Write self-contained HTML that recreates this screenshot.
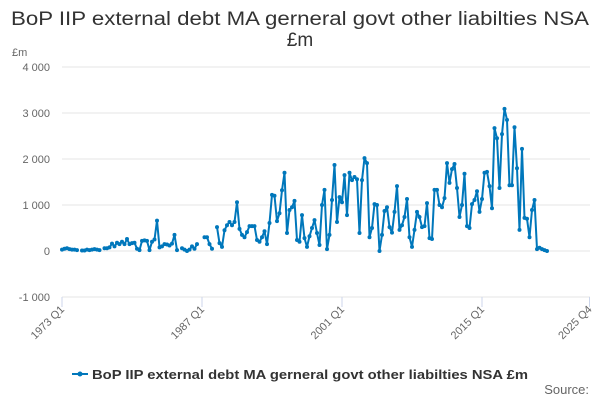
<!DOCTYPE html>
<html><head><meta charset="utf-8"><style>
body{margin:0;background:#fff;font-family:"Liberation Sans",sans-serif;}
svg text{font-family:"Liberation Sans",sans-serif;}
</style></head><body>
<svg id="chart" width="600" height="400">
<text x="300" y="25" text-anchor="middle" font-size="19" fill="#333" textLength="578" lengthAdjust="spacingAndGlyphs">BoP IIP external debt MA gerneral govt other liabilties NSA</text>
<text x="300" y="46" text-anchor="middle" font-size="19" fill="#333">£m</text>
<text x="12" y="56" font-size="11" fill="#666">£m</text>
<g id="grid"></g><g id="xaxis"></g><g id="series"></g>
<g>
<line x1="72" y1="374" x2="88" y2="374" stroke="#0077bb" stroke-width="2"/>
<circle cx="80" cy="374" r="2.5" fill="#0077bb"/>
<text x="92" y="379" font-size="13" font-weight="bold" fill="#333" textLength="436" lengthAdjust="spacingAndGlyphs">BoP IIP external debt MA gerneral govt other liabilties NSA £m</text>
</g>
<text x="589" y="394" text-anchor="end" font-size="13" fill="#666">Source:</text>
</svg>
<script>
const yTicks=[-1000,0,1000,2000,3000,4000];
const yTickLabels=["-1 000","0","1 000","2 000","3 000","4 000"];
const xTickIdx=[0,56,112,168,211];
const xTickLabels=["1973 Q1","1987 Q1","2001 Q1","2015 Q1","2025 Q4"];
const values=[30,50,60,40,30,30,20,null,10,10,30,20,30,40,30,20,null,
60,60,80,160,100,180,150,200,150,260,150,170,180,50,20,220,230,220,20,200,250,660,80,100,150,140,120,160,350,20,null,
60,30,0,30,100,50,150,null,null,300,300,150,50,null,
520,170,90,450,560,630,560,630,1060,480,350,300,410,540,540,540,240,200,300,430,150,610,1220,1200,650,820,1320,1700,390,890,950,1090,240,200,780,280,90,320,500,670,390,130,1000,1330,40,350,1110,1870,630,1170,1060,1650,780,1700,1540,1610,1560,390,1540,2020,1910,300,500,1020,1000,0,350,870,950,520,400,850,1410,460,560,740,1130,300,90,460,850,740,520,540,1040,280,260,1330,1330,1000,950,1150,1910,1480,1780,1890,1370,740,1000,1680,540,500,1020,1110,1300,850,1130,1700,1720,1410,930,2670,2450,1370,2540,3090,2850,1430,1430,2690,1800,460,2220,720,700,300,890,1110,40,70,40,20,0];
const X=i=>62+2.5*i, Y=v=>251-v*0.046;
const NS="http://www.w3.org/2000/svg";
function mk(t,a,p){const e=document.createElementNS(NS,t);for(const k in a)e.setAttribute(k,a[k]);p.appendChild(e);return e;}
const grid=document.getElementById('grid');
yTicks.forEach((v,k)=>{
 const l=mk('line',{x1:62,x2:590,y1:Y(v),y2:Y(v),stroke:'#e6e6e6'},grid);
 
 
 const t=mk('text',{x:50,y:Y(v)+4,'text-anchor':'end','font-size':11,fill:'#666'},grid);
 t.textContent=yTickLabels[k];
 
 
});
const xa=document.getElementById('xaxis');
xTickIdx.forEach((i,k)=>{
 const l=mk('line',{x1:X(i),x2:X(i),y1:297,y2:307,stroke:'#ccd6eb'},xa);
 
 
 const t=mk('text',{x:X(i)+3,y:310,'text-anchor':'end','font-size':11,fill:'#666',transform:`rotate(-45 ${X(i)+3} 310)`},xa);
 t.textContent=xTickLabels[k];
 
 
});
const s=document.getElementById('series');
let d='',pen=false;
values.forEach((v,i)=>{if(v===null){pen=false;return;}d+=(pen?'L':'M')+X(i)+' '+Y(v)+' ';pen=true;});
const p=mk('path',{d:d,fill:'none',stroke:'#0077bb','stroke-width':2,'stroke-linejoin':'round'},s);


values.forEach((v,i)=>{if(v===null)return;
 const c=mk('circle',{cx:X(i),cy:Y(v),r:2,fill:'#0077bb'},s);
 
 
});
</script>
</body></html>
